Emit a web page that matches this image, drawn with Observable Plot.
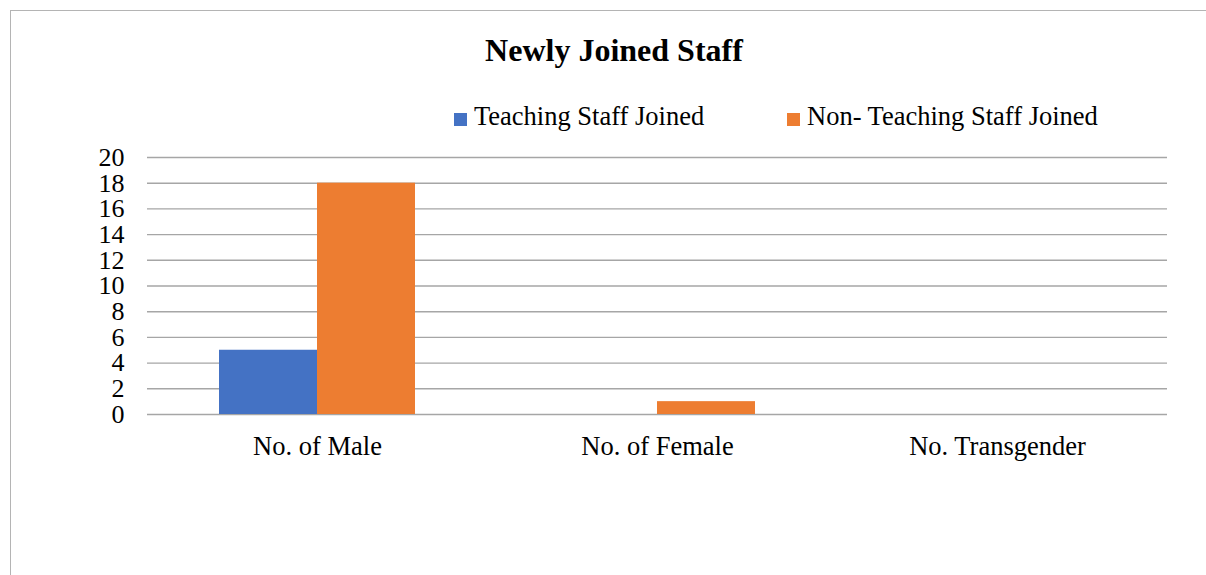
<!DOCTYPE html>
<html>
<head>
<meta charset="utf-8">
<script src="https://cdn.jsdelivr.net/npm/d3@7"></script>
<script src="https://cdn.jsdelivr.net/npm/@observablehq/plot@0.6"></script>
<style>
  html, body { margin: 0; padding: 0; background: #fff; }
  body { width: 1206px; height: 575px; overflow: hidden; position: relative;
         font-family: "Liberation Serif", "Times New Roman", serif; color: #000; }
  #frame { position: absolute; left: 10px; top: 10px; width: 1300px; height: 700px;
           border: 1.5px solid #b4b4b4; box-sizing: border-box; }
  #title { position: absolute; left: 0; top: 34px; width: 1228px; text-align: center;
           font-size: 32px; line-height: 32px; font-weight: bold; }
  .leg { position: absolute; top: 103px; font-size: 26.5px; line-height: 26.5px;
         white-space: nowrap; display: flex; align-items: flex-end; }
  .sw { display: inline-block; width: 13px; height: 13px; margin-right: 7px; margin-bottom: 4px; }
  #chart { position: absolute; left: 0; top: 130px; }
  #chart svg { background: transparent; }
</style>
</head>
<body>
<div id="frame"></div>
<div id="title"></div>
<div id="legend"></div>
<div id="chart"></div>
<script>
const chartTitle = "Newly Joined Staff";
const categories = ["No. of Male", "No. of Female", "No. Transgender"];
const seriesNames = ["Teaching Staff Joined", "Non- Teaching Staff Joined"];
const teachingJoined = [5, 0, 0];
const nonTeachingJoined = [18, 1, 0];
const yTicks = [0, 2, 4, 6, 8, 10, 12, 14, 16, 18, 20];
const colors = ["#4472C4", "#ED7D31"];

const data = categories.flatMap((c, i) => [
  {category: c, series: seriesNames[0], value: teachingJoined[i]},
  {category: c, series: seriesNames[1], value: nonTeachingJoined[i]}
]);

document.getElementById("title").textContent = chartTitle;

const legendLefts = [454, 787];
const legend = document.getElementById("legend");
seriesNames.forEach((s, i) => {
  const item = document.createElement("div");
  item.className = "leg";
  item.style.left = legendLefts[i] + "px";
  const sw = document.createElement("span");
  sw.className = "sw";
  sw.style.background = colors[i];
  const t = document.createElement("span");
  t.textContent = s;
  item.appendChild(sw);
  item.appendChild(t);
  legend.appendChild(item);
});

const chart = Plot.plot({
  width: 1206,
  height: 340,
  marginLeft: 147,
  marginRight: 39,
  marginTop: 27,
  marginBottom: 56,
  style: {fontFamily: "'Liberation Serif', 'Times New Roman', serif", fontSize: "26.5px", color: "#000", background: "transparent"},
  fx: {domain: categories, paddingInner: 0, paddingOuter: 0, label: null, tickSize: 0, tickPadding: 22},
  x: {domain: seriesNames, paddingInner: 0, paddingOuter: 0.73, axis: null},
  y: {domain: [0, 20], label: null, axis: null},
  color: {domain: seriesNames, range: colors},
  marks: [
    Plot.ruleY(yTicks, {stroke: "#a6a6a6", strokeWidth: 1.4}),
    Plot.axisY({ticks: yTicks, tickSize: 0, tickPadding: 23, label: null, line: true, stroke: "#a6a6a6", fill: "#000", strokeWidth: 1.4, fontSize: 26}),
    Plot.barY(data, {fx: "category", x: "series", y: "value", fill: "series", inset: 0})
  ]
});
document.getElementById("chart").appendChild(chart);
</script>
</body>
</html>
